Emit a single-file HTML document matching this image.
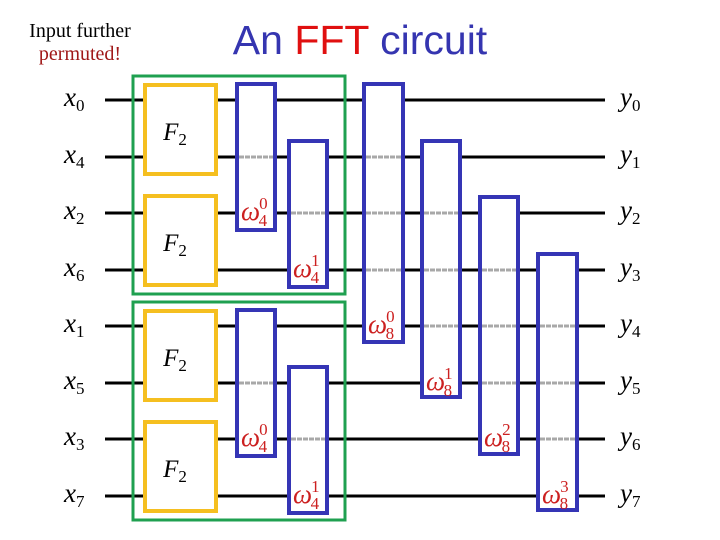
<!DOCTYPE html><html><head><meta charset="utf-8"><style>body{margin:0;background:#fff}svg{display:block}</style></head><body>
<svg width="720" height="540" xmlns="http://www.w3.org/2000/svg">
<text x="80" y="37" font-family="Liberation Serif" font-size="20" text-anchor="middle">Input further</text>
<text x="80" y="60" font-family="Liberation Serif" font-size="20" fill="#a01818" text-anchor="middle">permuted!</text>
<text x="360" y="54" font-family="Liberation Sans" font-size="41" fill="#3535b0" text-anchor="middle">An <tspan fill="#e01010">FFT</tspan> circuit</text>
<g stroke="#000" stroke-width="3">
<line x1="105" y1="100" x2="605" y2="100"/><line x1="105" y1="157" x2="605" y2="157"/><line x1="105" y1="213" x2="605" y2="213"/><line x1="105" y1="270" x2="605" y2="270"/><line x1="105" y1="326" x2="605" y2="326"/><line x1="105" y1="383" x2="605" y2="383"/><line x1="105" y1="439" x2="605" y2="439"/><line x1="105" y1="496" x2="605" y2="496"/>
</g>
<g fill="none" stroke="#1fa050" stroke-width="3"><rect x="133" y="76" width="212" height="218"/><rect x="133" y="302" width="212" height="218"/></g>
<g fill="#fff" stroke="#f5bf20" stroke-width="4"><rect x="145" y="85" width="71" height="89"/><rect x="145" y="196" width="71" height="89"/><rect x="145" y="311" width="71" height="89"/><rect x="145" y="422" width="71" height="89"/></g>
<g font-family="Liberation Serif" font-size="25" font-style="italic" text-anchor="middle">
<text x="175" y="140">F<tspan font-size="17" font-style="normal" dy="5">2</tspan></text>
<text x="175" y="251">F<tspan font-size="17" font-style="normal" dy="5">2</tspan></text>
<text x="175" y="366">F<tspan font-size="17" font-style="normal" dy="5">2</tspan></text>
<text x="175" y="477">F<tspan font-size="17" font-style="normal" dy="5">2</tspan></text>
</g>
<g fill="#fff" stroke="#3535b5" stroke-width="4">
<rect x="237" y="84" width="38" height="146"/><rect x="289" y="141" width="38" height="146"/>
<rect x="237" y="310" width="38" height="146"/><rect x="289" y="367" width="38" height="146"/>
<rect x="364" y="84" width="39" height="258"/><rect x="422" y="141" width="38" height="256"/>
<rect x="480" y="197" width="38" height="257"/><rect x="538" y="254" width="39" height="256"/>
</g>
<g stroke="#a8a8a8" stroke-width="3" stroke-dasharray="5,1">
<line x1="239" y1="157" x2="273" y2="157"/><line x1="291" y1="213" x2="325" y2="213"/>
<line x1="239" y1="383" x2="273" y2="383"/><line x1="291" y1="439" x2="325" y2="439"/>
<line x1="366" y1="157" x2="401" y2="157"/><line x1="366" y1="213" x2="401" y2="213"/><line x1="366" y1="270" x2="401" y2="270"/>
<line x1="424" y1="213" x2="458" y2="213"/><line x1="424" y1="270" x2="458" y2="270"/><line x1="424" y1="326" x2="458" y2="326"/>
<line x1="482" y1="270" x2="516" y2="270"/><line x1="482" y1="326" x2="516" y2="326"/><line x1="482" y1="383" x2="516" y2="383"/>
<line x1="540" y1="326" x2="575" y2="326"/><line x1="540" y1="383" x2="575" y2="383"/><line x1="540" y1="439" x2="575" y2="439"/>
</g>
<g font-family="Liberation Serif" font-size="27" fill="#cc2020" font-style="italic">
<text x="241" y="220">ω<tspan font-size="17" font-style="normal" dx="-1" dy="-11">0</tspan><tspan font-size="17" font-style="normal" dx="-9" dy="17">4</tspan></text>
<text x="293" y="277">ω<tspan font-size="17" font-style="normal" dx="-1" dy="-11">1</tspan><tspan font-size="17" font-style="normal" dx="-9" dy="17">4</tspan></text>
<text x="241" y="446">ω<tspan font-size="17" font-style="normal" dx="-1" dy="-11">0</tspan><tspan font-size="17" font-style="normal" dx="-9" dy="17">4</tspan></text>
<text x="293" y="503">ω<tspan font-size="17" font-style="normal" dx="-1" dy="-11">1</tspan><tspan font-size="17" font-style="normal" dx="-9" dy="17">4</tspan></text>
<text x="368" y="333">ω<tspan font-size="17" font-style="normal" dx="-1" dy="-11">0</tspan><tspan font-size="17" font-style="normal" dx="-9" dy="17">8</tspan></text>
<text x="426" y="390">ω<tspan font-size="17" font-style="normal" dx="-1" dy="-11">1</tspan><tspan font-size="17" font-style="normal" dx="-9" dy="17">8</tspan></text>
<text x="484" y="446">ω<tspan font-size="17" font-style="normal" dx="-1" dy="-11">2</tspan><tspan font-size="17" font-style="normal" dx="-9" dy="17">8</tspan></text>
<text x="542" y="503">ω<tspan font-size="17" font-style="normal" dx="-1" dy="-11">3</tspan><tspan font-size="17" font-style="normal" dx="-9" dy="17">8</tspan></text>
</g>
<g font-family="Liberation Serif" font-size="27" font-style="italic">
<text x="64" y="106">x<tspan font-size="17" font-style="normal" dy="5">0</tspan></text>
<text x="64" y="163">x<tspan font-size="17" font-style="normal" dy="5">4</tspan></text>
<text x="64" y="219">x<tspan font-size="17" font-style="normal" dy="5">2</tspan></text>
<text x="64" y="276">x<tspan font-size="17" font-style="normal" dy="5">6</tspan></text>
<text x="64" y="332">x<tspan font-size="17" font-style="normal" dy="5">1</tspan></text>
<text x="64" y="389">x<tspan font-size="17" font-style="normal" dy="5">5</tspan></text>
<text x="64" y="445">x<tspan font-size="17" font-style="normal" dy="5">3</tspan></text>
<text x="64" y="502">x<tspan font-size="17" font-style="normal" dy="5">7</tspan></text>
<text x="620" y="106">y<tspan font-size="17" font-style="normal" dy="5">0</tspan></text>
<text x="620" y="163">y<tspan font-size="17" font-style="normal" dy="5">1</tspan></text>
<text x="620" y="219">y<tspan font-size="17" font-style="normal" dy="5">2</tspan></text>
<text x="620" y="276">y<tspan font-size="17" font-style="normal" dy="5">3</tspan></text>
<text x="620" y="332">y<tspan font-size="17" font-style="normal" dy="5">4</tspan></text>
<text x="620" y="389">y<tspan font-size="17" font-style="normal" dy="5">5</tspan></text>
<text x="620" y="445">y<tspan font-size="17" font-style="normal" dy="5">6</tspan></text>
<text x="620" y="502">y<tspan font-size="17" font-style="normal" dy="5">7</tspan></text>
</g>
</svg>
</body></html>
